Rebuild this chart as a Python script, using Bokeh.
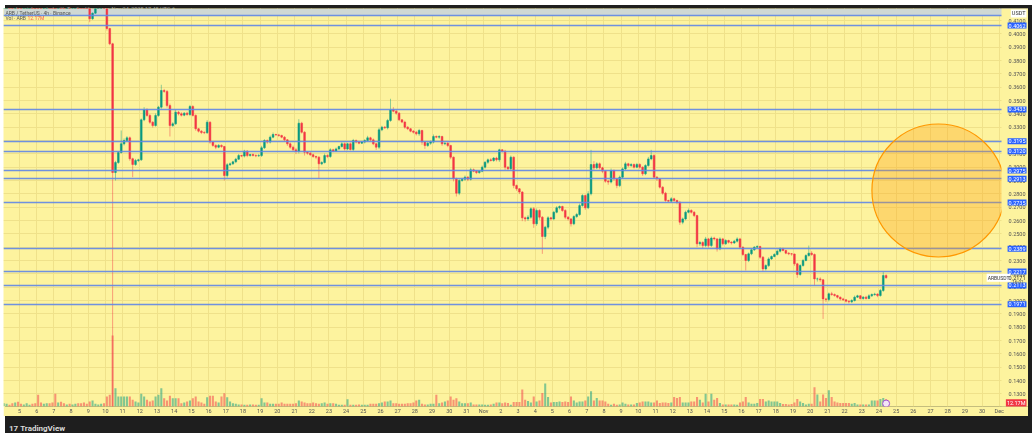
import numpy as np
import pandas as pd
from bokeh.plotting import figure
from bokeh.models import Range1d, FixedTicker, Label, ColumnDataSource, Div
from bokeh.layouts import column
from bokeh.embed import file_html
from bokeh.resources import INLINE
from bokeh.core.properties import value

# ---------------- data (ARB / TetherUS, 4h, Binance) ----------------
start_time = "2025-10-04 00:00"
axis_origin = "2025-10-05 00:00"
first_open = 0.450

closes = [
    0.452, 0.455, 0.449, 0.447, 0.450, 0.446, 0.443, 0.445, 0.448, 0.451,
    0.449, 0.446, 0.440, 0.438, 0.441, 0.444, 0.442, 0.439, 0.435, 0.437,
    0.436, 0.433, 0.434, 0.432, 0.435, 0.437, 0.433, 0.430, 0.428, 0.425,
    0.4113, 0.4155, 0.4200, 0.4250, 0.4280, 0.4250, 0.4040, 0.3925, 0.2960, 0.3035,
    0.3110, 0.3175, 0.3200, 0.3220, 0.3063, 0.3020, 0.3050, 0.3055, 0.3355, 0.3430,
    0.3388, 0.3337, 0.3312, 0.3388, 0.3450, 0.3575, 0.3568, 0.3462, 0.3312, 0.3325,
    0.3412, 0.3400, 0.3390, 0.3405, 0.3395, 0.3455, 0.3388, 0.3288, 0.3270, 0.3260,
    0.3258, 0.3337, 0.3188, 0.3163, 0.3150, 0.3163, 0.3155, 0.2937, 0.3018, 0.3025,
    0.3040, 0.3060, 0.3087, 0.3083, 0.3120, 0.3087, 0.3095, 0.3087, 0.3085, 0.3087,
    0.3145, 0.3200, 0.3188, 0.3225, 0.3245, 0.3242, 0.3238, 0.3225, 0.3205, 0.3175,
    0.3150, 0.3130, 0.3118, 0.3330, 0.3262, 0.3112, 0.3105, 0.3093, 0.3080, 0.3075,
    0.3025, 0.3035, 0.3087, 0.3080, 0.3130, 0.3120, 0.3137, 0.3155, 0.3175, 0.3137,
    0.3175, 0.3133, 0.3200, 0.3188, 0.3180, 0.3188, 0.3200, 0.3220, 0.3205, 0.3175,
    0.3150, 0.3280, 0.3300, 0.3295, 0.3350, 0.3430, 0.3420, 0.3405, 0.3355, 0.3338,
    0.3300, 0.3288, 0.3270, 0.3262, 0.3250, 0.3275, 0.3188, 0.3162, 0.3180, 0.3188,
    0.3230, 0.3225, 0.3230, 0.3175, 0.3180, 0.3162, 0.3075, 0.2913, 0.2805, 0.2900,
    0.2910, 0.2925, 0.2910, 0.2980, 0.2970, 0.2960, 0.2970, 0.3000, 0.3037, 0.3055,
    0.3050, 0.3068, 0.3055, 0.3130, 0.3120, 0.3000, 0.2988, 0.3075, 0.2862, 0.2838,
    0.2813, 0.2620, 0.2612, 0.2625, 0.2688, 0.2575, 0.2675, 0.2625, 0.2480, 0.2550,
    0.2620, 0.2612, 0.2662, 0.2695, 0.2705, 0.2675, 0.2625, 0.2612, 0.2575, 0.2630,
    0.2645, 0.2712, 0.2787, 0.2695, 0.2800, 0.3020, 0.2995, 0.3025, 0.2995, 0.2970,
    0.2895, 0.2888, 0.2975, 0.2912, 0.2862, 0.2925, 0.2987, 0.3025, 0.3012, 0.3020,
    0.3000, 0.3020, 0.3000, 0.2950, 0.3012, 0.3062, 0.3087, 0.2925, 0.2912, 0.2850,
    0.2805, 0.2750, 0.2745, 0.2763, 0.2750, 0.2737, 0.2587, 0.2612, 0.2662, 0.2675,
    0.2662, 0.2637, 0.2425, 0.2435, 0.2412, 0.2462, 0.2412, 0.2468, 0.2462, 0.2387,
    0.2462, 0.2425, 0.2450, 0.2437, 0.2432, 0.2445, 0.2462, 0.2400, 0.2345, 0.2300,
    0.2350, 0.2380, 0.2400, 0.2405, 0.2325, 0.2237, 0.2262, 0.2312, 0.2330, 0.2345,
    0.2370, 0.2388, 0.2375, 0.2355, 0.2350, 0.2348, 0.2275, 0.2195, 0.2262, 0.2300,
    0.2337, 0.2355, 0.2345, 0.2162, 0.2162, 0.2155, 0.2012, 0.2008, 0.2050, 0.2045,
    0.2037, 0.2025, 0.2012, 0.2005, 0.1995, 0.1990, 0.2000, 0.2025, 0.2035, 0.2015,
    0.2025, 0.2015, 0.2035, 0.2045, 0.2048, 0.2037, 0.2075, 0.2187, 0.2171,
]

# upper / lower wick lengths, in units of 0.0001 USDT
wick_up = [
    8, 6, 10, 5, 7, 9, 6, 8, 5, 7,
    6, 9, 5, 7, 8, 6, 10, 5, 7, 6,
    8, 5, 6, 9, 7, 5, 6, 8, 7, 9,
    0, 5, 10, 8, 12, 6, 10, 6, 8, 12,
    10, 100, 15, 12, 10, 8, 12, 8, 10, 20,
    12, 10, 8, 15, 10, 43, 12, 10, 15, 12,
    18, 10, 12, 8, 10, 12, 10, 8, 6, 8,
    10, 15, 8, 6, 8, 10, 8, 5, 12, 10,
    8, 10, 12, 6, 10, 8, 6, 8, 10, 12,
    15, 10, 8, 12, 15, 6, 8, 5, 8, 6,
    10, 12, 15, 30, 10, 8, 6, 10, 8, 6,
    8, 10, 15, 10, 12, 8, 10, 6, 12, 10,
    8, 10, 12, 8, 6, 8, 10, 15, 8, 10,
    6, 15, 10, 8, 12, 83, 20, 10, 8, 6,
    10, 8, 6, 8, 10, 12, 6, 8, 10, 12,
    15, 8, 10, 6, 8, 10, 6, 5, 8, 15,
    10, 12, 8, 15, 10, 8, 6, 12, 8, 10,
    12, 8, 10, 8, 6, 10, 8, 12, 6, 8,
    5, 8, 10, 15, 10, 12, 15, 10, 8, 10,
    12, 8, 10, 12, 8, 6, 10, 8, 6, 10,
    12, 15, 10, 8, 20, 110, 25, 12, 10, 8,
    6, 10, 15, 8, 6, 12, 10, 15, 8, 10,
    8, 12, 10, 6, 10, 15, 43, 10, 8, 6,
    8, 10, 6, 12, 8, 6, 8, 10, 12, 15,
    10, 8, 6, 12, 10, 15, 8, 12, 10, 6,
    12, 8, 10, 6, 8, 10, 12, 8, 6, 5,
    10, 12, 8, 10, 6, 8, 10, 12, 8, 10,
    12, 10, 8, 6, 8, 6, 5, 8, 10, 12,
    10, 57, 15, 8, 10, 12, 6, 8, 10, 15,
    8, 6, 5, 8, 6, 5, 10, 12, 8, 6,
    8, 10, 12, 8, 10, 6, 12, 28, 10,
]
wick_dn = [
    7, 9, 6, 10, 8, 5, 9, 6, 8, 7,
    10, 6, 8, 9, 5, 7, 6, 10, 8, 6,
    7, 9, 6, 8, 10, 7, 8, 6, 9, 8,
    26, 8, 6, 10, 8, 12, 15, 10, 1760, 60,
    10, 8, 12, 10, 15, 95, 10, 12, 8, 10,
    10, 12, 15, 8, 10, 12, 10, 15, 82, 10,
    8, 12, 10, 8, 10, 12, 8, 15, 10, 12,
    10, 8, 12, 10, 15, 8, 10, 37, 15, 10,
    8, 10, 6, 8, 10, 12, 8, 6, 10, 8,
    10, 8, 12, 10, 8, 6, 10, 8, 12, 15,
    12, 10, 20, 15, 10, 25, 12, 8, 10, 15,
    112, 10, 8, 12, 10, 8, 6, 10, 8, 12,
    10, 8, 12, 10, 8, 6, 10, 8, 12, 10,
    20, 15, 10, 8, 12, 10, 8, 12, 10, 8,
    12, 10, 8, 10, 12, 15, 20, 25, 10, 12,
    10, 8, 12, 15, 10, 12, 15, 20, 25, 15,
    10, 12, 15, 10, 8, 12, 10, 8, 10, 12,
    8, 10, 12, 15, 10, 20, 15, 12, 20, 15,
    15, 25, 20, 15, 12, 30, 15, 20, 130, 20,
    15, 12, 10, 8, 12, 10, 15, 12, 20, 10,
    12, 10, 8, 15, 10, 12, 15, 10, 12, 15,
    12, 20, 10, 15, 20, 12, 10, 8, 12, 10,
    10, 8, 12, 15, 10, 8, 10, 12, 15, 10,
    12, 10, 8, 12, 10, 15, 20, 15, 10, 8,
    10, 12, 25, 15, 20, 12, 15, 10, 12, 20,
    10, 12, 8, 10, 12, 8, 10, 15, 12, 75,
    12, 10, 8, 10, 12, 20, 12, 10, 8, 6,
    8, 10, 6, 8, 10, 12, 15, 25, 10, 8,
    6, 8, 10, 52, 20, 15, 150, 20, 15, 10,
    8, 10, 12, 8, 10, 12, 10, 8, 6, 8,
    10, 8, 6, 8, 10, 12, 8, 10, 8,
]

# volume per candle, millions of ARB
volume_m = [
    5.6, 4.6, 2.9, 5.6, 6.8, 8.0, 4.6, 3.4, 5.6, 2.9,
    4.6, 5.6, 19.9, 6.8, 4.6, 5.6, 5.6, 6.8, 21.6, 6.8,
    8.0, 5.6, 3.4, 4.6, 3.4, 4.6, 5.6, 5.6, 6.8, 4.6,
    8.5, 10.2, 4.6, 3.4, 4.6, 5.6, 17.0, 19.9, 120.7, 31.1,
    17.0, 17.0, 17.0, 17.0, 17.0, 11.4, 8.5, 6.8, 21.6, 17.0,
    11.4, 8.5, 10.2, 17.0, 19.9, 31.1, 14.1, 10.2, 18.2, 14.1,
    14.1, 14.1, 5.6, 6.8, 8.5, 10.2, 14.1, 17.0, 8.5, 6.8,
    4.6, 15.8, 18.2, 18.2, 8.5, 6.8, 17.0, 22.6, 15.8, 8.5,
    5.6, 4.6, 3.4, 3.4, 2.9, 2.9, 3.4, 3.4, 2.9, 2.9,
    14.1, 6.8, 6.8, 4.6, 4.6, 4.6, 4.6, 6.8, 4.6, 4.6,
    4.6, 4.6, 5.6, 10.2, 8.5, 6.8, 5.6, 5.6, 6.8, 5.6,
    4.6, 5.6, 6.8, 4.6, 5.6, 5.6, 4.6, 2.9, 2.9, 2.9,
    12.4, 2.9, 2.9, 2.9, 3.4, 2.9, 2.9, 2.9, 4.6, 4.6,
    4.6, 5.6, 6.8, 8.5, 8.5, 10.2, 5.6, 5.6, 4.6, 4.6,
    4.6, 5.6, 5.6, 6.8, 10.2, 11.4, 4.6, 3.4, 3.4, 4.6,
    4.6, 19.9, 5.6, 6.8, 8.5, 10.2, 17.0, 11.4, 14.1, 8.5,
    5.6, 5.6, 5.6, 6.8, 3.4, 3.4, 3.4, 3.4, 2.9, 2.9,
    3.4, 4.6, 6.8, 6.8, 5.6, 6.8, 5.8, 2.9, 7.7, 7.7,
    7.7, 28.9, 11.6, 9.2, 6.8, 17.0, 8.5, 10.2, 23.1, 39.1,
    16.2, 6.8, 7.7, 7.7, 8.5, 7.7, 8.5, 7.7, 17.0, 10.2,
    6.8, 8.5, 8.5, 10.2, 17.0, 26.0, 10.2, 14.5, 10.2, 10.2,
    8.5, 4.6, 2.9, 4.6, 2.9, 3.4, 6.8, 4.6, 3.4, 3.4,
    3.4, 5.8, 6.8, 8.5, 8.5, 8.5, 6.8, 6.8, 10.2, 5.8,
    6.8, 6.8, 5.8, 6.8, 16.2, 14.5, 16.2, 6.8, 6.8, 6.8,
    8.5, 8.5, 16.2, 11.6, 6.8, 21.9, 8.5, 21.9, 11.6, 14.5,
    5.8, 3.4, 3.4, 3.4, 3.4, 3.4, 2.9, 6.8, 8.5, 16.2,
    6.8, 4.6, 4.6, 5.8, 12.8, 12.8, 8.5, 10.2, 8.5, 8.5,
    8.5, 5.8, 4.1, 4.1, 3.4, 4.1, 6.8, 12.8, 8.5, 5.8,
    3.4, 4.6, 4.6, 32.8, 20.2, 8.5, 20.2, 14.5, 27.7, 16.2,
    8.5, 6.8, 5.8, 5.8, 5.8, 5.8, 4.6, 5.8, 3.4, 3.4,
    3.4, 3.4, 3.4, 10.2, 10.2, 10.2, 12.8, 14.5, 12.17,
]

# horizontal lines drawn on the chart (prices)
level_prices = [0.4062, 0.3433, 0.3195, 0.3120, 0.2975, 0.2913, 0.2735,
                0.2389, 0.2217, 0.2113, 0.1971]
top_band = [0.4136, 0.4192]
last_price = 0.2171
last_volume = 12.17

# orange circle drawing (centre day / price)
circle_day = 53.46
circle_price = 0.2825

price_ticks = [0.13, 0.14, 0.15, 0.16, 0.17, 0.18, 0.19, 0.20, 0.21, 0.22,
               0.23, 0.24, 0.25, 0.26, 0.27, 0.28, 0.29, 0.30, 0.31, 0.32,
               0.33, 0.34, 0.35, 0.36, 0.37, 0.38, 0.39, 0.40, 0.41]
day_labels = ["5", "6", "7", "8", "9", "10", "11", "12", "13", "14", "15", "16",
              "17", "18", "19", "20", "21", "22", "23", "24", "25", "26", "27",
              "28", "29", "30", "31", "Nov", "2", "3", "4", "5", "6", "7", "8",
              "9", "10", "11", "12", "13", "14", "15", "16", "17", "18", "19",
              "20", "21", "22", "23", "24", "25", "26", "27", "28", "29", "30", "Dec"]
day_ticks = list(range(len(day_labels)))

# ---------------- derived ----------------
N = len(closes)
o = np.array([first_open] + closes[:-1])
c = np.array(closes)
hi = np.maximum(o, c) + np.array(wick_up) * 1e-4
lo = np.minimum(o, c) - np.array(wick_dn) * 1e-4
t = pd.date_range(start_time, periods=N, freq="4h")
xday = ((t - pd.Timestamp(axis_origin)) / pd.Timedelta("1D")).to_numpy() + 1.0 / 12
GREEN, RED = "#089981", "#f23645"
col = np.where(c >= o, GREEN, RED)

src = ColumnDataSource(dict(x=xday, top=np.maximum(o, c), bot=np.minimum(o, c),
                            hi=hi, lo=lo, col=col, vol=volume_m))

BG = "#fdf39e"
FONT = "Roboto"
X0, X1 = -0.931, 58.70       # whole frame incl. price-scale strip
PANE_END = 57.13             # where the price scale strip begins
Y0, Y1 = 0.1205, 0.419

p = figure(frame_width=1025, frame_height=398, x_range=Range1d(X0, X1),
           y_range=Range1d(Y0, Y1), output_backend="svg", toolbar_location=None,
           y_axis_location=None, min_border_left=0, min_border_top=0,
           min_border_right=0, min_border_bottom=9,
           background_fill_color=BG, border_fill_color=BG, outline_line_color=None)
p.margin = (8, 0, 0, 3)
p.extra_y_ranges = {"vol": Range1d(0, 677)}

# grid
p.xgrid.ticker = FixedTicker(ticks=day_ticks)
p.ygrid.ticker = FixedTicker(ticks=price_ticks)
p.grid.grid_line_color = "#efe18a"
p.grid.grid_line_width = 1

# time axis
p.xaxis.ticker = FixedTicker(ticks=day_ticks)
p.xaxis.major_label_overrides = {d: lab for d, lab in zip(day_ticks, day_labels)}
p.xaxis.major_label_text_font = FONT
p.xaxis.major_label_text_font_size = "5.5px"
p.xaxis.major_label_text_color = "#555555"
p.xaxis.major_tick_line_color = None
p.xaxis.minor_tick_line_color = None
p.xaxis.major_tick_out = 0
p.xaxis.major_tick_in = 0
p.xaxis.minor_tick_out = 0
p.xaxis.axis_line_color = None
p.xaxis.major_label_standoff = 1

# top grey band (legend strip) and volume
p.hstrip(y0=[top_band[0]], y1=[top_band[1]], fill_color="#cfd8d4", line_color=None)
p.vbar(x="x", top="vol", bottom=0, width=0.12, y_range_name="vol", source=src,
       fill_color="col", fill_alpha=0.5, line_color=None)

# candles
p.segment(x0="x", y0="lo", x1="x", y1="hi", source=src, line_color="col",
          line_alpha=0.45, line_width=1)
p.vbar(x="x", top="top", bottom="bot", width=0.10, source=src,
       fill_color="col", line_color="col", line_width=0.5)

# horizontal levels
p.hspan(y=level_prices + [top_band[0]], line_color="#5f86e6", line_width=1.6, line_alpha=0.9)

# orange circle
p.scatter(x=[circle_day], y=[circle_price], size=133, marker="circle",
          fill_color="#ff9800", fill_alpha=0.3, line_color="#ff9800", line_width=1.2)

# event marker on volume
p.scatter(x=[xday[-1]], y=[5.0], y_range_name="vol", size=7, marker="circle",
          fill_color="#f3e5f5", line_color="#a24fd0", line_width=1)

# price scale strip
p.quad(left=[PANE_END], right=[X1], bottom=[Y0], top=[Y1], fill_color=BG, line_color=None)
p.text(x=[X1] * len(price_ticks), y=price_ticks,
       text=[f"{v:.4f}" for v in price_ticks], x_offset=-3, text_align="right",
       text_baseline="middle", text_font=value(FONT), text_font_size="5.5px",
       text_color="#555555")

for lv in level_prices:
    p.add_layout(Label(x=X1, y=lv, x_offset=-2, text=f"{lv:.4f}", text_font=FONT,
                       text_font_size="5.5px", text_color="white", text_align="right",
                       text_baseline="middle", background_fill_color="#2962ff",
                       padding=1))
p.add_layout(Label(x=X1, y=0.4153, x_offset=-2, text="USDT", text_font=FONT,
                   text_font_size="5.5px", text_color="#333333", text_align="right",
                   text_baseline="middle", background_fill_color="white", padding=1))
p.add_layout(Label(x=PANE_END, y=last_price, x_offset=9, text="ARBUSDT", text_font=FONT,
                   text_font_size="5px", text_color="#333333", text_baseline="middle",
                   text_align="right", background_fill_color="white", padding=1))
p.add_layout(Label(x=X1, y=last_price, x_offset=-3, text=f"{last_price:.4f}", text_font=FONT,
                   text_font_size="5.5px", text_color="#333333", text_align="right",
                   text_baseline="middle"))
p.add_layout(Label(x=X1, y=last_price, x_offset=-5, y_offset=-5, text="16:01", text_font=FONT,
                   text_font_size="4.5px", text_color="#555555", text_align="right",
                   text_baseline="middle"))
p.add_layout(Label(x=X1, y=last_volume, y_range_name="vol", x_offset=-2, y_offset=-4,
                   text=f"{last_volume:.2f}M", text_font=FONT, text_font_size="5.5px",
                   text_color="white", text_align="right", text_baseline="middle",
                   background_fill_color="#f23645", padding=1))

# legend texts
p.add_layout(Label(x=X0, y=0.4160, x_offset=2, text="ARB / TetherUS · 4h · Binance",
                   text_font=FONT, text_font_size="5px", text_color="#555555",
                   text_baseline="middle"))
p.add_layout(Label(x=X0, y=0.4119, x_offset=2, text="Vol · ARB",
                   text_font=FONT, text_font_size="5px", text_color="#555555",
                   text_baseline="middle"))
p.add_layout(Label(x=X0, y=0.4119, x_offset=24, text=f"{last_volume:.2f}M",
                   text_font=FONT, text_font_size="5px", text_color="#f0624d",
                   text_baseline="middle"))

frame_html = (
    '<div style="position:absolute;left:3px;top:0px;font:5.5px Roboto,sans-serif;'
    'color:#a0a0a0;line-height:8px;white-space:nowrap;">'
    'mohaprich created with TradingView.com, Nov 24, 2025 17:45 UTC-6</div>'
    '<div style="position:absolute;left:4px;top:419px;font:bold 8px Roboto,sans-serif;'
    'color:#dadada;line-height:10px;white-space:nowrap;">17&nbsp;TradingView</div>'
)
bg = Div(text=frame_html, width=1032, height=433,
         styles={"position": "fixed", "left": "0px", "top": "0px", "z-index": "-1",
                 "background-color": "#1e1e1e"})

layout = column(p, bg)
open("out.html", "w").write(file_html(layout, INLINE))
